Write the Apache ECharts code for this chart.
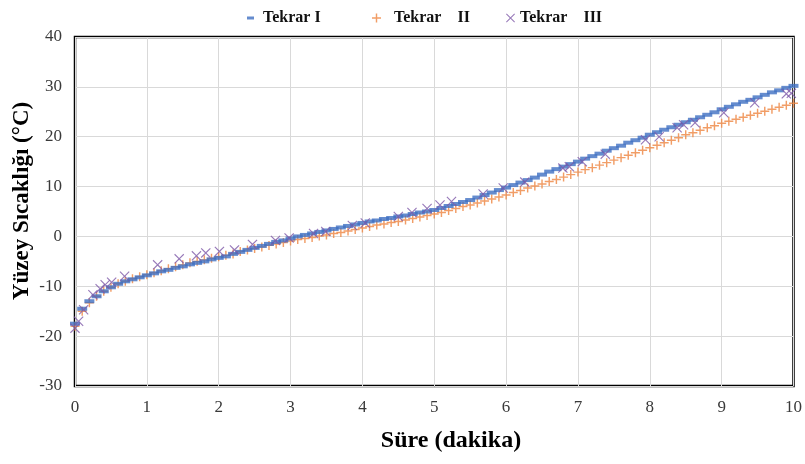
<!DOCTYPE html>
<html>
<head>
<meta charset="utf-8">
<script src="https://cdn.jsdelivr.net/npm/echarts@6/dist/echarts.min.js"></script>
<style>html,body{margin:0;padding:0;background:#fff;}#c{width:805px;height:464px;}</style>
</head>
<body>
<div id="c"></div>
<script>
const times = [0,0.1,0.2,0.3,0.4,0.5,0.6,0.7,0.8,0.9,1,1.1,1.2,1.3,1.4,1.5,1.6,1.7,1.8,1.9,2,2.1,2.2,2.3,2.4,2.5,2.6,2.7,2.8,2.9,3,3.1,3.2,3.3,3.4,3.5,3.6,3.7,3.8,3.9,4,4.1,4.2,4.3,4.4,4.5,4.6,4.7,4.8,4.9,5,5.1,5.2,5.3,5.4,5.5,5.6,5.7,5.8,5.9,6,6.1,6.2,6.3,6.4,6.5,6.6,6.7,6.8,6.9,7,7.1,7.2,7.3,7.4,7.5,7.6,7.7,7.8,7.9,8,8.1,8.2,8.3,8.4,8.5,8.6,8.7,8.8,8.9,9,9.1,9.2,9.3,9.4,9.5,9.6,9.7,9.8,9.9,10];
const tekrar1 = [-17.5,-14.5,-13,-12,-11,-10.2,-9.5,-9,-8.6,-8.2,-7.8,-7.4,-7.0,-6.7,-6.3,-6.0,-5.6,-5.3,-5.0,-4.6,-4.3,-4.0,-3.5,-3.1,-2.7,-2.3,-1.9,-1.5,-1.1,-0.8,-0.4,0.0,0.3,0.6,0.9,1.2,1.5,1.8,2.1,2.4,2.7,3.0,3.2,3.5,3.7,4.0,4.2,4.5,4.8,5.0,5.3,5.7,6.1,6.5,6.9,7.3,7.8,8.3,8.8,9.3,9.8,10.3,10.8,11.3,11.8,12.4,13.0,13.5,14.0,14.5,15.0,15.6,16.1,16.6,17.2,17.7,18.2,18.8,19.3,19.8,20.4,20.9,21.4,21.9,22.4,22.9,23.4,23.9,24.4,24.9,25.5,26.0,26.5,27.0,27.4,27.9,28.4,28.9,29.3,29.8,30.2];
const tekrar2 = [-18,-15,-13.3,-12,-11,-10.2,-9.5,-9,-8.5,-8.1,-7.7,-7.3,-6.9,-6.5,-6.1,-5.7,-5.3,-5.0,-4.7,-4.4,-4.1,-3.8,-3.5,-3.0,-2.7,-2.4,-2.1,-1.8,-1.5,-1.2,-0.9,-0.6,-0.4,-0.2,0.1,0.3,0.6,0.8,1.1,1.4,1.7,2.0,2.3,2.5,2.8,3.0,3.3,3.6,3.9,4.2,4.5,4.8,5.2,5.6,6.0,6.3,6.7,7.1,7.5,7.9,8.3,8.8,9.2,9.7,10.1,10.5,11.0,11.4,11.9,12.4,12.9,13.4,13.8,14.3,14.8,15.3,15.8,16.3,16.8,17.3,17.8,18.3,18.8,19.3,19.8,20.4,20.8,21.3,21.8,22.2,22.7,23.1,23.5,23.9,24.3,24.7,25.1,25.5,25.9,26.3,26.7];
const tekrar3 = [[0,-18.4],[0.05,-17],[0.12,-14.7],[0.25,-11.7],[0.35,-10.5],[0.42,-9.7],[0.51,-9.2],[0.69,-8.0],[1.15,-5.7],[1.45,-4.5],[1.69,-3.9],[1.82,-3.3],[2.01,-3.0],[2.22,-2.7],[2.47,-1.6],[2.79,-0.8],[2.98,-0.3],[3.32,0.6],[3.49,1.0],[3.86,2.2],[4.04,2.7],[4.5,4.0],[4.69,4.8],[4.9,5.6],[5.08,6.3],[5.24,7.0],[5.68,8.5],[5.96,9.7],[6.26,10.9],[6.79,13.7],[6.88,14.0],[7.06,15.0],[7.38,16.5],[7.94,19.4],[8.13,20.0],[8.38,21.8],[8.47,22.4],[8.63,22.8],[9.03,24.8],[9.46,26.8],[9.9,28.6],[9.97,28.7]];
const seriesNames = ['Tekrar I', 'Tekrar    II', 'Tekrar    III'];
const xTicks = [0,1,2,3,4,5,6,7,8,9,10];
const yTicks = [-30,-20,-10,0,10,20,30,40];
const xTitle = 'Süre (dakika)';
const yTitle = 'Yüzey Sıcaklığı (°C)';

const FONT = '"Liberation Serif","DejaVu Serif",serif';
const BLUE = '#3e6fc2', ORANGE = '#ee8540', PURPLE = '#7d57a8';
const PLUS = 'path://M4.2,0H5.8V4.2H10V5.8H5.8V10H4.2V5.8H0V4.2H4.2Z';
const CROSS = 'path://M0,0.8L0.8,0L5,4.2L9.2,0L10,0.8L5.8,5L10,9.2L9.2,10L5,5.8L0.8,10L0,9.2L4.2,5Z';

const chart = echarts.init(document.getElementById('c'));
const legendText = {fontFamily: FONT, fontWeight: 'bold', fontSize: 16, color: '#111'};
chart.setOption({
  animation: false,
  backgroundColor: '#fff',
  legend: [
    {data: [{name: seriesNames[0], icon: 'rect'}], left: 242, top: 5, itemWidth: 7, itemHeight: 3, textStyle: legendText,
     formatter: n => ' ' + n},
    {data: [{name: seriesNames[1], icon: PLUS}], left: 367, top: 5, itemWidth: 9, itemHeight: 9, textStyle: legendText,
     formatter: n => '  ' + n},
    {data: [{name: seriesNames[2], icon: CROSS}], left: 501, top: 5, itemWidth: 9, itemHeight: 9, textStyle: legendText}
  ],
  graphic: [{
    type: 'text', x: 22, y: 201, rotation: Math.PI / 2,
    style: {text: yTitle, fontFamily: FONT, fontWeight: 'bold', fontSize: 23, fill: '#000',
      align: 'center', verticalAlign: 'middle'}
  }, {
    type: 'text', x: 451, y: 441,
    style: {text: xTitle, fontFamily: FONT, fontWeight: 'bold', fontSize: 24, fill: '#000',
      align: 'center', verticalAlign: 'middle'}
  }],
  grid: {left: 75, right: 8, top: 37, bottom: 78, show: true, borderColor: '#000', borderWidth: 2.5},
  xAxis: {
    type: 'value', min: 0, max: 10, interval: 1,
    axisLine: {show: false}, axisTick: {show: false},
    axisLabel: {fontFamily: FONT, fontSize: 17, color: '#3a3a3a', margin: 13,
      formatter: v => xTicks.includes(v) ? String(v) : ''},
    splitLine: {show: true, lineStyle: {color: '#d9d9d9', width: 1}}
  },
  yAxis: {
    type: 'value', min: -30, max: 40, interval: 10,
    axisLine: {show: false}, axisTick: {show: false},
    axisLabel: {fontFamily: FONT, fontSize: 17, color: '#3a3a3a', margin: 13,
      formatter: v => yTicks.includes(v) ? String(v) : ''},
    splitLine: {show: true, lineStyle: {color: '#d9d9d9', width: 1}}
  },
  series: [
    {name: seriesNames[0], type: 'scatter', symbol: 'rect', symbolSize: [10, 4],
     itemStyle: {color: BLUE}, data: times.map((t, i) => [t, tekrar1[i]]), z: 3},
    {name: seriesNames[1], type: 'scatter', symbol: PLUS, symbolSize: 9,
     itemStyle: {color: ORANGE}, data: times.map((t, i) => [t, tekrar2[i]]), z: 2},
    {name: seriesNames[2], type: 'scatter', symbol: CROSS, symbolSize: 10,
     itemStyle: {color: PURPLE}, data: tekrar3, z: 4}
  ]
});
</script>
</body>
</html>
